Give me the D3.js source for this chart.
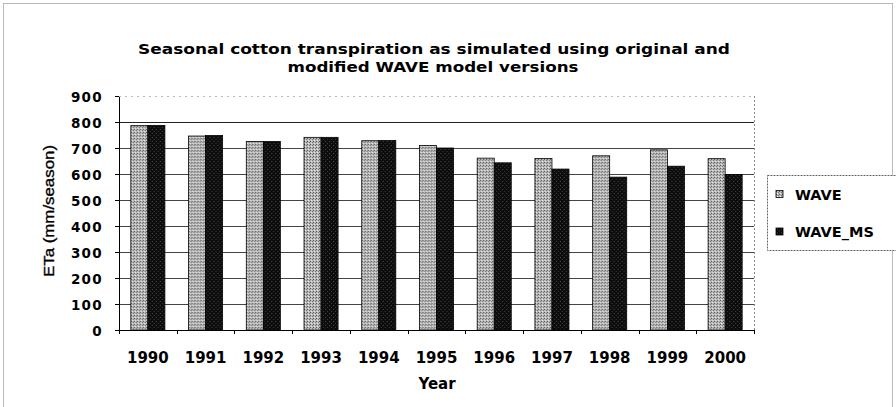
<!DOCTYPE html>
<meta charset="utf-8">
<style>
body { margin: 0; background: #fff; }
svg text { font-family: "DejaVu Sans", Verdana, sans-serif; font-weight: bold; fill: #000; }
.grid line { stroke-width: 1; shape-rendering: crispEdges; }
.axis path, .axis line { stroke: #000; shape-rendering: crispEdges; }
svg text.ytitle { font-family: "Liberation Sans", Arial, sans-serif; font-weight: normal; stroke: #000; stroke-width: 0.35; }
</style>
<body>
<div id="chart"></div>
<script src="https://d3js.org/d3.v7.min.js"></script>
<script>

// chart data
var years   = ["1990","1991","1992","1993","1994","1995","1996","1997","1998","1999","2000"];
var wave    = [786, 746, 725, 741, 728, 710, 661, 660, 670, 693, 659];
var waveMS  = [787, 748, 725, 741, 729, 700, 643, 619, 588, 630, 598];
var series  = ["WAVE", "WAVE_MS"];
var yTicks  = [0,100,200,300,400,500,600,700,800,900];

var W = 896, H = 407;
var plot = {left: 119, right: 754, top: 96, bottom: 330};

var svg = d3.select("#chart").append("svg")
    .attr("width", W)
    .attr("height", H);

var defs = svg.append("defs");
// stippled grey for WAVE
var p1 = defs.append("pattern").attr("id", "pWave")
    .attr("width", 3).attr("height", 3).attr("patternUnits", "userSpaceOnUse");
p1.append("rect").attr("width", 3).attr("height", 3).attr("fill", "#b9b9b9");
p1.append("rect").attr("x", 0).attr("y", 0).attr("width", 1).attr("height", 1).attr("fill", "#555");
p1.append("rect").attr("x", 2).attr("y", 1).attr("width", 1).attr("height", 1).attr("fill", "#777");
p1.append("rect").attr("x", 1).attr("y", 2).attr("width", 1).attr("height", 1).attr("fill", "#e8e8e8");
// near black for WAVE_MS
var p2 = defs.append("pattern").attr("id", "pMS")
    .attr("width", 4).attr("height", 4).attr("patternUnits", "userSpaceOnUse");
p2.append("rect").attr("width", 4).attr("height", 4).attr("fill", "#0d0d0d");
p2.append("rect").attr("x", 1).attr("y", 1).attr("width", 1).attr("height", 1).attr("fill", "#4a4a4a");
p2.append("rect").attr("x", 3).attr("y", 3).attr("width", 1).attr("height", 1).attr("fill", "#3a3a3a");

var fills = {"WAVE": "url(#pWave)", "WAVE_MS": "url(#pMS)"};

// outer dotted frame
svg.append("rect")
    .attr("x", 3.5).attr("y", 3.5).attr("width", W - 7).attr("height", H + 10)
    .attr("fill", "none").attr("stroke", "#777").attr("stroke-dasharray", "1,1");

var x = d3.scaleBand()
    .domain(years)
    .range([plot.left, plot.right])
    .paddingInner(0.41)
    .paddingOuter(0.205);

var x1 = d3.scaleBand()
    .domain(series)
    .range([0, x.bandwidth()]);

var y = d3.scaleLinear()
    .domain([0, 900])
    .range([plot.bottom, plot.top]);

// gridlines
svg.append("g").attr("class", "grid")
  .selectAll("line")
  .data(yTicks.slice(1))
  .enter().append("line")
    .attr("x1", plot.left).attr("x2", plot.right)
    .attr("y1", d => Math.round(y(d)) + 0.5)
    .attr("y2", d => Math.round(y(d)) + 0.5)
    .attr("stroke", d => d === 900 ? "#bbb" : (d === 800 ? "#222" : "#444"))
    .attr("stroke-dasharray", d => d === 900 ? "2,4" : null);

// plot area right border (dotted)
svg.append("line")
    .attr("x1", plot.right + 0.5).attr("x2", plot.right + 0.5)
    .attr("y1", plot.top).attr("y2", plot.bottom)
    .attr("stroke", "#888").attr("stroke-dasharray", "2,2");

// bars
var rows = years.map((yr, i) => ({year: yr, values: [
    {key: "WAVE", v: wave[i]}, {key: "WAVE_MS", v: waveMS[i]}]}));

var groups = svg.selectAll(".yr")
    .data(rows)
    .enter().append("g")
    .attr("transform", d => "translate(" + x(d.year) + ",0)");

groups.selectAll("rect")
    .data(d => d.values)
    .enter().append("rect")
    .attr("x", d => x1(d.key))
    .attr("y", d => y(d.v))
    .attr("width", x1.bandwidth())
    .attr("height", d => y(0) - y(d.v))
    .attr("fill", d => fills[d.key])
    .attr("stroke", "#000")
    .attr("stroke-width", 0.8);

// axes
var yAxis = svg.append("g")
    .attr("class", "axis")
    .attr("transform", "translate(" + plot.left + ",0)")
    .call(d3.axisLeft(y).tickValues(yTicks).tickSize(4).tickSizeOuter(0));
yAxis.selectAll("text")
    .attr("font-size", 13.5)
    .attr("letter-spacing", 1.3)
    .attr("x", -16)
    .attr("dy", "0.42em");

var xAxis = svg.append("g")
    .attr("class", "axis")
    .attr("transform", "translate(0," + plot.bottom + ")")
    .call(d3.axisBottom(x).tickSize(0).tickSizeOuter(0));
xAxis.selectAll("text")
    .attr("font-size", 15)
    .attr("y", 33)
    .attr("dy", 0);

// x ticks between categories
svg.append("g").selectAll("line")
    .data(d3.range(years.length + 1))
    .enter().append("line")
    .attr("x1", i => Math.round(plot.left + i * (plot.right - plot.left) / years.length) + 0.5)
    .attr("x2", i => Math.round(plot.left + i * (plot.right - plot.left) / years.length) + 0.5)
    .attr("y1", plot.bottom).attr("y2", plot.bottom + 4)
    .attr("stroke", "#000");

// title
svg.append("text")
    .attr("x", 434).attr("y", 54)
    .attr("text-anchor", "middle")
    .attr("font-size", 14.5)
    .attr("textLength", 592).attr("lengthAdjust", "spacingAndGlyphs")
    .text("Seasonal cotton transpiration as simulated using original and");
svg.append("text")
    .attr("x", 433).attr("y", 72)
    .attr("text-anchor", "middle")
    .attr("font-size", 14.5)
    .attr("textLength", 291).attr("lengthAdjust", "spacingAndGlyphs")
    .text("modified WAVE model versions");

// axis titles
svg.append("text")
    .attr("x", 437).attr("y", 389)
    .attr("text-anchor", "middle")
    .attr("font-size", 15)
    .text("Year");

svg.append("text")
    .attr("class", "ytitle")
    .attr("transform", "translate(54,211) rotate(-90)")
    .attr("text-anchor", "middle")
    .attr("font-size", 15.5)
    .attr("textLength", 132).attr("lengthAdjust", "spacingAndGlyphs")
    .text("ETa (mm/season)");

// legend
var lg = svg.append("g");
lg.append("rect")
    .attr("x", 767.5).attr("y", 175.5).attr("width", 140).attr("height", 75)
    .attr("fill", "#fff").attr("stroke", "#666").attr("stroke-dasharray", "2,1");

var li = lg.selectAll(".li")
    .data(series)
    .enter().append("g")
    .attr("transform", (d, i) => "translate(776," + (194 + i * 37.5) + ")");
li.append("rect")
    .attr("x", 0).attr("y", -3.5).attr("width", 7).attr("height", 7)
    .attr("fill", d => fills[d]).attr("stroke", "#000").attr("stroke-width", 0.8);
li.append("text")
    .attr("x", 19).attr("y", 5.5)
    .attr("font-size", 14.5)
    .text(d => d);

</script>
